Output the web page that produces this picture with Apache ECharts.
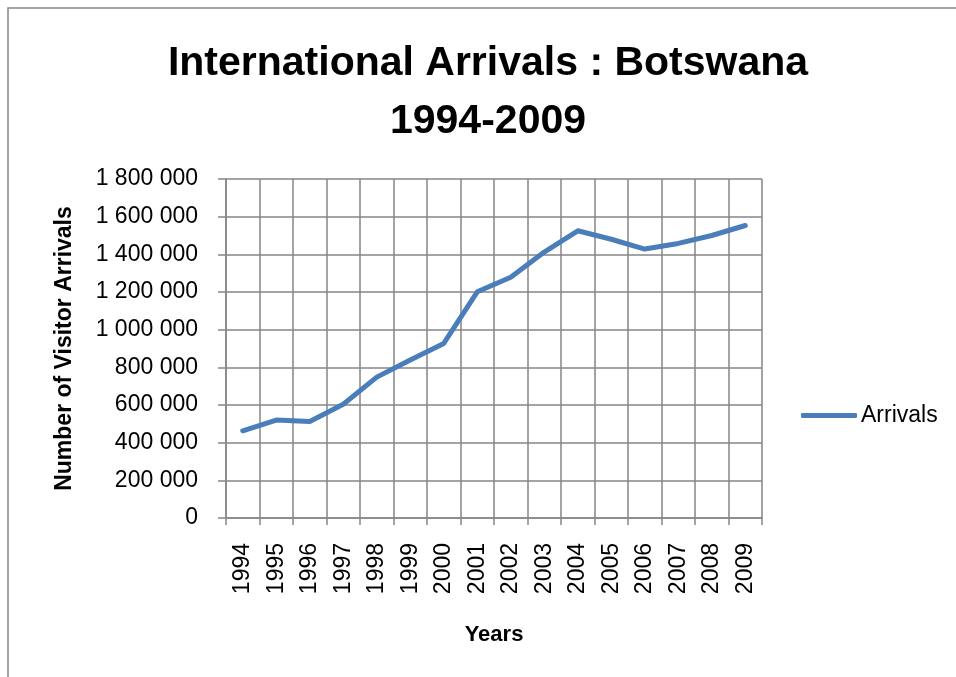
<!DOCTYPE html>
<html>
<head>
<meta charset="utf-8">
<script src="https://cdn.jsdelivr.net/npm/echarts@6/dist/echarts.min.js"></script>
<style>
html,body{margin:0;padding:0;background:#fff;}
#chart{width:956px;height:677px;}
</style>
</head>
<body>
<div id="chart"></div>
<script>
var titleText = 'International Arrivals : Botswana\n1994-2009';
var years = ['1994','1995','1996','1997','1998','1999','2000','2001','2002','2003','2004','2005','2006','2007','2008','2009'];
var arrivals = [463000, 520000, 512000, 604000, 748000, 839000, 927000, 1201000, 1278000, 1412000, 1525000, 1480000, 1428000, 1458000, 1500000, 1553000];
var seriesName = 'Arrivals';
var xAxisName = 'Years';
var yAxisName = 'Number of Visitor Arrivals';
var yMin = 0, yMax = 1800000, yStep = 200000;

var gridColor = '#868686';
var lineColor = '#4A7EBB';
var font = '"Liberation Sans", Arial, sans-serif';

var chart = echarts.init(document.getElementById('chart'), null, {renderer: 'canvas'});
chart.setOption({
  animation: false,
  backgroundColor: '#ffffff',
  graphic: [{
    type: 'rect',
    shape: {x: 8, y: 8, width: 1200, height: 1000},
    style: {fill: 'none', stroke: gridColor, lineWidth: 1.5},
    silent: true,
    z: -10
  }],
  title: {
    text: titleText,
    left: 488,
    top: 35,
    textAlign: 'center',
    padding: 0,
    textStyle: {
      fontFamily: font,
      fontWeight: 'bold',
      fontSize: 41,
      lineHeight: 58,
      color: '#000'
    }
  },
  legend: {
    data: [{name: seriesName, icon: 'roundRect'}],
    left: 801,
    top: 404,
    padding: 0,
    itemWidth: 56,
    itemHeight: 5,
    itemGap: 4,
    itemStyle: {color: lineColor, borderWidth: 0},
    textStyle: {fontFamily: font, fontSize: 23, color: '#000', padding: [0,0,0,-1]}
  },
  grid: {left: 226, top: 179, right: 194, bottom: 159, containLabel: false},
  xAxis: {
    type: 'category',
    data: years,
    boundaryGap: true,
    name: xAxisName,
    nameLocation: 'middle',
    nameGap: 106,
    nameTextStyle: {fontFamily: font, fontWeight: 'bold', fontSize: 22, color: '#000'},
    axisLine: {show: true, lineStyle: {color: gridColor, width: 1.5}},
    axisTick: {show: true, length: 7, lineStyle: {color: gridColor, width: 1.5}},
    axisLabel: {rotate: 90, margin: 25, fontFamily: font, fontSize: 23, color: '#000', interval: 0},
    splitLine: {show: true, interval: 0, lineStyle: {color: gridColor, width: 1.5}}
  },
  yAxis: {
    type: 'value',
    min: yMin,
    max: yMax,
    interval: yStep,
    name: yAxisName,
    nameLocation: 'middle',
    nameGap: 150,
    nameRotate: 90,
    nameTextStyle: {fontFamily: font, fontWeight: 'bold', fontSize: 23, color: '#000'},
    axisLine: {show: true, lineStyle: {color: gridColor, width: 1.5}},
    axisTick: {show: true, length: 8, lineStyle: {color: gridColor, width: 1.5}},
    axisLabel: {
      margin: 28,
      fontFamily: font,
      fontSize: 23,
      color: '#000',
      formatter: function (v) { return String(v).replace(/\B(?=(\d{3})+(?!\d))/g, ' '); }
    },
    splitLine: {show: true, lineStyle: {color: gridColor, width: 1.5}}
  },
  series: [{
    name: seriesName,
    type: 'line',
    data: arrivals,
    showSymbol: false,
    symbol: 'none',
    itemStyle: {color: lineColor},
    lineStyle: {color: lineColor, width: 5, cap: 'round', join: 'round'}
  }]
});
</script>
</body>
</html>
